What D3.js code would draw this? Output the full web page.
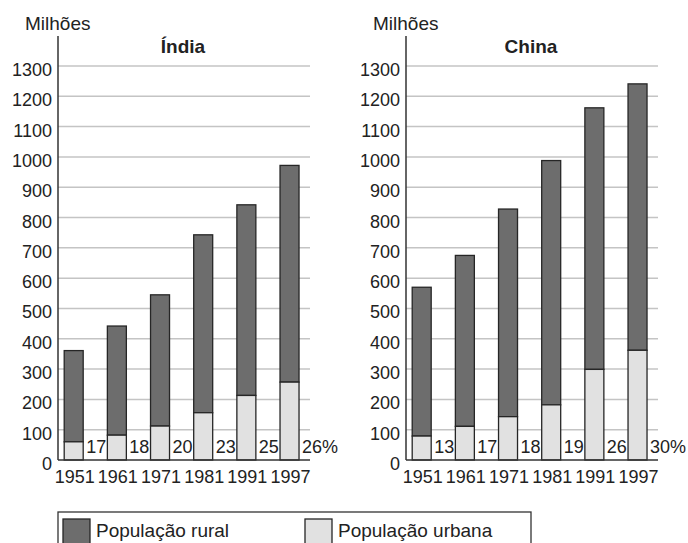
<!DOCTYPE html>
<html>
<head>
<meta charset="utf-8">
<script src="https://cdn.jsdelivr.net/npm/d3@7"></script>
<style>
    body { margin: 0; background: #fff; }
    svg { display: block; font-family: "Liberation Sans", Arial, sans-serif; }
</style>
</head>
<body>
<div id="chart"></div>
<script>
// anos censitarios
var years = ['1951', '1961', '1971', '1981', '1991', '1997'];

// populacao total e urbana (milhoes), % urbana
var india_total = [361, 442, 545, 743, 842, 972];
var india_urban = [60, 82, 112, 156, 213, 257];
var india_pct = ['17', '18', '20', '23', '25', '26%'];

var china_total = [570, 675, 828, 988, 1162, 1241];
var china_urban = [79, 111, 143, 182, 299, 362];
var china_pct = ['13', '17', '18', '19', '26', '30%'];

var y_ticks = d3.range(0, 1301, 100);

var W = 688, H = 543;
var colors = { rural: '#6d6d6d', urban: '#e1e1e1', stroke: '#262626', grid: '#c4c4c4' };

var svg = d3.select('#chart').append('svg')
    .attr('width', W).attr('height', H);

var y = d3.scaleLinear().domain([0, 1300]).range([460, 66]);

function panel(x0, title, total, urban, pct) {
    var plotW = 252;
    var x = d3.scaleBand().domain(years).range([0, 259]).padding(0);
    var barW = x.bandwidth() * 0.44;
    var barOff = 6.2;

    var g = svg.append('g').attr('transform', `translate(${x0},0)`);

    // gridlines
    g.append('g').selectAll('line')
        .data(y_ticks.filter(d => d > 0))
        .join('line')
        .attr('x1', 0).attr('x2', plotW)
        .attr('y1', d => y(d)).attr('y2', d => y(d))
        .attr('stroke', colors.grid).attr('stroke-width', 1.5);

    // tick labels
    g.append('g').selectAll('text')
        .data(y_ticks)
        .join('text')
        .attr('x', -6).attr('y', d => y(d)).attr('dy', 10)
        .attr('text-anchor', 'end')
        .attr('font-size', 18).attr('fill', '#222')
        .text(d => d);

    var rows = years.map((yr, i) => ({ year: yr, total: total[i], urban: urban[i], pct: pct[i] }));

    // barras: rural em cima, urbana embaixo
    var bars = g.append('g').selectAll('g').data(rows).join('g');
    bars.append('rect')
        .attr('x', d => x(d.year) + barOff)
        .attr('width', barW)
        .attr('y', d => y(d.total))
        .attr('height', d => y(d.urban) - y(d.total))
        .attr('fill', colors.rural)
        .attr('stroke', colors.stroke).attr('stroke-width', 1.3);
    bars.append('rect')
        .attr('x', d => x(d.year) + barOff)
        .attr('width', barW)
        .attr('y', d => y(d.urban))
        .attr('height', d => y(0) - y(d.urban))
        .attr('fill', colors.urban)
        .attr('stroke', colors.stroke).attr('stroke-width', 1.3);

    // % urbana
    bars.append('text')
        .attr('x', d => x(d.year) + barOff + barW + 3)
        .attr('y', y(0) - 7)
        .attr('font-size', 18).attr('fill', '#222')
        .text(d => d.pct);

    // anos
    bars.append('text')
        .attr('x', d => x(d.year) + barOff + barW / 2 + 1)
        .attr('y', 483)
        .attr('text-anchor', 'middle')
        .attr('font-size', 18).attr('fill', '#222')
        .text(d => d.year);

    // eixos
    g.append('line')
        .attr('x1', 0).attr('x2', 0).attr('y1', 36).attr('y2', y(0))
        .attr('stroke', '#333').attr('stroke-width', 1.5);
    g.append('line')
        .attr('x1', 0).attr('x2', plotW).attr('y1', y(0)).attr('y2', y(0))
        .attr('stroke', '#333').attr('stroke-width', 1.5);

    g.append('text')
        .attr('x', -33).attr('y', 30)
        .attr('font-size', 19).attr('fill', '#222')
        .text('Milhões');

    g.append('text')
        .attr('x', plotW / 2 - 1).attr('y', 53)
        .attr('text-anchor', 'middle')
        .attr('font-size', 19).attr('font-weight', 'bold').attr('fill', '#222')
        .text(title);
}

panel(58, 'Índia', india_total, india_urban, india_pct);
panel(406, 'China', china_total, china_urban, china_pct);

// legenda
var legend = svg.append('g');
legend.append('rect')
    .attr('x', 58).attr('y', 512).attr('width', 473).attr('height', 40)
    .attr('fill', 'none').attr('stroke', '#333').attr('stroke-width', 1.3);

var items = [
    { name: 'População rural', color: colors.rural, x: 63 },
    { name: 'População urbana', color: colors.urban, x: 305 }
];
var li = legend.selectAll('g.item').data(items).join('g').attr('class', 'item');
li.append('rect')
    .attr('x', d => d.x).attr('y', 519).attr('width', 27).attr('height', 30)
    .attr('fill', d => d.color)
    .attr('stroke', colors.stroke).attr('stroke-width', 1.3);
li.append('text')
    .attr('x', d => d.x + 33).attr('y', 537)
    .attr('font-size', 19).attr('fill', '#222')
    .text(d => d.name);
</script>
</body>
</html>
